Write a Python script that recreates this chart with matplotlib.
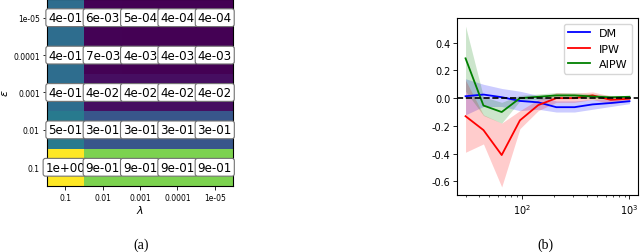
import numpy as np
import matplotlib
matplotlib.use("Agg")
import matplotlib.pyplot as plt

plt.rcParams['axes.unicode_minus'] = False

# ---- heatmap data (a) ----
lam_labels = ["0.1", "0.01", "0.001", "0.0001", "1e-05"]
eps_labels = ["1e-05", "0.0001", "0.001", "0.01", "0.1"]
heat = np.array([
    [0.40, 0.006, 0.0005, 0.0004, 0.0004],
    [0.40, 0.007, 0.004, 0.004, 0.004],
    [0.40, 0.04, 0.04, 0.04, 0.04],
    [0.46, 0.30, 0.30, 0.30, 0.30],
    [1.12, 0.90, 0.90, 0.90, 0.90],
])

# ---- line chart data (b) ----
n = [30, 44, 65, 96, 142, 209, 308, 454, 669, 1000]
dm = [0.014, 0.026, 0.007, -0.02, -0.03, -0.065, -0.065, -0.045, -0.035, -0.022]
dm_lo = [-0.12, -0.06, -0.06, -0.09, -0.08, -0.10, -0.10, -0.08, -0.06, -0.04]
dm_hi = [0.14, 0.10, 0.07, 0.05, 0.02, -0.02, -0.02, -0.01, -0.01, -0.005]
ipw = [-0.13, -0.23, -0.41, -0.16, -0.05, 0.0, 0.0, 0.02, -0.012, -0.004]
ipw_lo = [-0.39, -0.33, -0.64, -0.22, -0.09, -0.03, -0.03, -0.01, -0.04, -0.02]
ipw_hi = [0.13, -0.12, -0.18, -0.09, -0.01, 0.04, 0.035, 0.045, 0.015, 0.012]
aipw = [0.287, -0.053, -0.10, 0.0, 0.01, 0.02, 0.02, 0.012, 0.006, 0.01]
aipw_lo = [0.05, -0.125, -0.18, -0.02, -0.01, 0.0, 0.0, -0.005, -0.01, -0.003]
aipw_hi = [0.52, 0.01, -0.03, 0.02, 0.03, 0.04, 0.04, 0.03, 0.02, 0.02]

fig = plt.figure(figsize=(6.4, 2.53), dpi=100)

# (a) heatmap
ax1 = fig.add_axes([0.073, 0.261, 0.2917, 0.739])
ax1.imshow(heat, cmap='viridis', aspect='auto', interpolation='nearest')
for i in range(heat.shape[0]):
    for j in range(heat.shape[1]):
        ax1.text(j, i, "%.0e" % heat[i, j], ha='center', va='center', fontsize=8.6,
                 bbox=dict(boxstyle='round,pad=0.2', fc='white', ec='0.45', lw=0.8))
ax1.set_xticks(range(len(lam_labels)))
ax1.set_xticklabels(lam_labels, fontsize=5.5)
ax1.set_yticks(range(len(eps_labels)))
ax1.set_yticklabels(eps_labels, fontsize=5.5)
ax1.tick_params(length=3, width=0.6, pad=2)
ax1.set_xlabel(r"$\lambda$", fontsize=8, labelpad=1)
ax1.set_ylabel(r"$\epsilon$", fontsize=8, labelpad=2)
fig.text(0.221, 0.032, "(a)", ha='center', va='center', fontsize=10, family='Liberation Serif')

# (b) line chart
ax2 = fig.add_axes([0.7146, 0.2253, 0.2818, 0.6997])
ax2.plot(n, dm, color='blue', lw=1.3, label='DM')
ax2.fill_between(n, dm_lo, dm_hi, color='blue', alpha=0.2, lw=0)
ax2.plot(n, ipw, color='red', lw=1.3, label='IPW')
ax2.fill_between(n, ipw_lo, ipw_hi, color='red', alpha=0.2, lw=0)
ax2.plot(n, aipw, color='green', lw=1.3, label='AIPW')
ax2.fill_between(n, aipw_lo, aipw_hi, color='green', alpha=0.2, lw=0)
ax2.axhline(0, color='black', ls='--', lw=1.2)
ax2.set_xscale('log')
ax2.set_yticks([-0.6, -0.4, -0.2, 0.0, 0.2, 0.4])
ax2.tick_params(labelsize=7, length=3, width=0.6, pad=2)
ax2.tick_params(which='minor', length=1.5, width=0.5)
ax2.legend(loc='upper right', fontsize=8, borderpad=0.4)
fig.text(0.852, 0.032, "(b)", ha='center', va='center', fontsize=10, family='Liberation Serif')

fig.savefig("out.png", dpi=100)
